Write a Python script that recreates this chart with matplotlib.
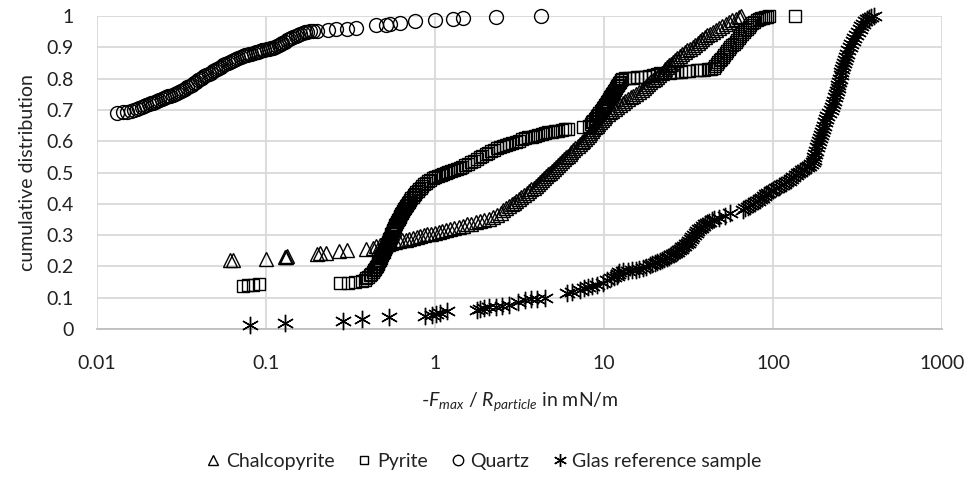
import matplotlib
matplotlib.use('Agg')
import matplotlib.pyplot as plt

plt.rcParams['font.family'] = ['Lato', 'DejaVu Sans']
plt.rcParams['mathtext.fontset'] = 'custom'
plt.rcParams['mathtext.rm'] = 'Lato'
plt.rcParams['mathtext.it'] = 'Lato:italic'

# (-F_max / R_particle in mN/m, cumulative fraction) for each sample
chalco_pts = [
    (0.0615, 0.220), (0.064, 0.221), (0.100, 0.225), (0.130, 0.229), (0.131, 0.231), (0.133, 0.233),
    (0.200, 0.240), (0.210, 0.242), (0.228, 0.244), (0.270, 0.250), (0.300, 0.252), (0.390, 0.256),
    (0.430, 0.260),
    (0.45, 0.265), (0.47, 0.267), (0.49, 0.269), (0.51, 0.271), (0.53, 0.273), (0.55, 0.275),
    (0.58, 0.278), (0.61, 0.280), (0.64, 0.283), (0.67, 0.285), (0.70, 0.288), (0.74, 0.291),
    (0.78, 0.294), (0.82, 0.297), (0.86, 0.300), (0.90, 0.302), (0.95, 0.305), (1.00, 0.308),
    (1.05, 0.311), (1.10, 0.313), (1.16, 0.316), (1.23, 0.320), (1.30, 0.323), (1.38, 0.327),
    (1.46, 0.330), (1.55, 0.334), (1.64, 0.337), (1.74, 0.341), (1.85, 0.345), (1.96, 0.349),
    (2.08, 0.353), (2.20, 0.358), (2.32, 0.364), (2.45, 0.371),
    (2.52, 0.380), (2.62, 0.386), (2.73, 0.392), (2.84, 0.398), (2.94, 0.404), (3.03, 0.410),
    (3.13, 0.416), (3.24, 0.422), (3.36, 0.428), (3.48, 0.434), (3.60, 0.440), (3.72, 0.446),
    (3.84, 0.452), (3.96, 0.458), (4.08, 0.464), (4.20, 0.470), (4.32, 0.476), (4.44, 0.482),
    (4.56, 0.488), (4.68, 0.494), (4.80, 0.500), (4.92, 0.506), (5.05, 0.512), (5.20, 0.518),
    (5.35, 0.524), (5.50, 0.530), (5.65, 0.536), (5.80, 0.542), (5.95, 0.548), (6.10, 0.554),
    (6.25, 0.560), (6.40, 0.566), (6.57, 0.572), (6.77, 0.578), (6.97, 0.584), (7.17, 0.590),
    (7.37, 0.596), (7.56, 0.602), (7.74, 0.608), (7.92, 0.614), (8.10, 0.620), (8.28, 0.626),
    (8.46, 0.632), (8.64, 0.638), (8.84, 0.644), (9.05, 0.650), (9.26, 0.656), (9.48, 0.662),
    (9.72, 0.668), (9.96, 0.674), (10.2, 0.680), (10.5, 0.686), (10.8, 0.692), (11.2, 0.698),
    (11.6, 0.704), (12.0, 0.710), (12.4, 0.716), (12.9, 0.722), (13.4, 0.728), (13.9, 0.734),
    (14.4, 0.740), (14.9, 0.746), (15.5, 0.752), (16.1, 0.758), (16.7, 0.764), (17.2, 0.770),
    (17.7, 0.776), (18.2, 0.782), (18.8, 0.788), (19.4, 0.794), (20.0, 0.800), (20.6, 0.806),
    (21.3, 0.812), (21.9, 0.818), (22.5, 0.824), (23.0, 0.830), (23.7, 0.836), (24.3, 0.842),
    (24.9, 0.848), (25.6, 0.854), (26.4, 0.860), (27.2, 0.866), (28.0, 0.872), (29.0, 0.878),
    (30.0, 0.884), (31.0, 0.890), (32.2, 0.896), (33.4, 0.902), (34.6, 0.908), (35.8, 0.914),
    (37.0, 0.920), (38.2, 0.926), (39.5, 0.932), (40.8, 0.938), (42.2, 0.944), (44.0, 0.950),
    (45.8, 0.956), (47.7, 0.962), (50.0, 0.968), (52.4, 0.974), (54.8, 0.980), (57.2, 0.986),
    (60.0, 0.992), (63.0, 0.997), (65.0, 1.000),
]

pyrite_pts = [
    (0.073, 0.138), (0.078, 0.140), (0.0837, 0.142), (0.091, 0.144),
    (0.274, 0.146), (0.306, 0.148), (0.337, 0.150), (0.370, 0.153),
    (0.385, 0.157), (0.393, 0.162), (0.402, 0.167), (0.411, 0.172), (0.419, 0.177), (0.427, 0.182),
    (0.434, 0.187), (0.441, 0.192), (0.447, 0.197), (0.452, 0.202), (0.457, 0.207), (0.462, 0.212),
    (0.467, 0.217), (0.472, 0.222), (0.477, 0.227), (0.482, 0.232), (0.487, 0.237), (0.492, 0.242),
    (0.497, 0.247), (0.502, 0.252), (0.507, 0.257), (0.512, 0.262), (0.517, 0.267), (0.522, 0.272),
    (0.527, 0.277), (0.532, 0.282), (0.537, 0.287), (0.542, 0.292), (0.547, 0.297), (0.552, 0.302),
    (0.557, 0.307), (0.562, 0.312), (0.567, 0.317), (0.572, 0.322), (0.577, 0.327), (0.583, 0.332),
    (0.589, 0.337), (0.596, 0.342), (0.603, 0.347), (0.610, 0.352), (0.617, 0.357), (0.624, 0.362),
    (0.632, 0.367), (0.640, 0.372), (0.648, 0.377), (0.657, 0.382), (0.666, 0.387), (0.675, 0.392),
    (0.685, 0.397), (0.695, 0.402), (0.705, 0.407), (0.715, 0.412), (0.725, 0.417), (0.736, 0.422),
    (0.748, 0.427), (0.761, 0.432), (0.775, 0.437), (0.790, 0.442), (0.806, 0.447), (0.824, 0.452),
    (0.843, 0.457), (0.864, 0.462), (0.887, 0.467), (0.912, 0.472), (0.940, 0.477), (0.970, 0.482),
    (1.00, 0.486),
    (1.04, 0.489), (1.08, 0.492), (1.12, 0.495), (1.16, 0.498), (1.20, 0.501), (1.25, 0.504),
    (1.30, 0.508), (1.35, 0.511), (1.40, 0.515), (1.45, 0.519), (1.51, 0.523), (1.57, 0.528),
    (1.63, 0.533), (1.70, 0.538), (1.77, 0.543), (1.84, 0.548), (1.91, 0.553), (1.99, 0.558),
    (2.07, 0.563), (2.15, 0.568), (2.24, 0.573), (2.33, 0.577), (2.43, 0.581), (2.53, 0.585),
    (2.64, 0.588), (2.75, 0.591), (2.87, 0.595), (3.00, 0.598), (3.13, 0.602), (3.27, 0.606),
    (3.42, 0.609), (3.57, 0.612), (3.73, 0.615), (3.90, 0.618), (4.08, 0.621), (4.27, 0.624),
    (4.47, 0.626), (4.68, 0.628), (4.90, 0.630), (5.13, 0.632), (5.37, 0.634), (5.62, 0.636),
    (5.88, 0.638), (6.10, 0.639), (7.50, 0.645),
    (8.20, 0.650), (8.35, 0.655), (8.50, 0.660), (8.65, 0.665), (8.80, 0.670), (8.95, 0.675),
    (9.10, 0.680), (9.25, 0.685), (9.40, 0.690), (9.55, 0.695), (9.70, 0.700), (9.85, 0.705),
    (10.0, 0.710), (10.15, 0.715), (10.3, 0.720), (10.45, 0.725), (10.6, 0.730), (10.75, 0.735),
    (10.9, 0.740), (11.05, 0.745), (11.2, 0.750), (11.35, 0.755), (11.5, 0.760), (11.65, 0.765),
    (11.8, 0.770), (11.95, 0.775), (12.1, 0.780), (12.25, 0.785), (12.4, 0.790), (12.6, 0.795),
    (12.8, 0.800),
    (13.3, 0.801), (14.0, 0.802), (14.8, 0.803), (15.6, 0.804), (16.5, 0.805), (17.5, 0.806),
    (18.5, 0.808), (19.5, 0.812), (20.5, 0.816), (21.5, 0.818), (24.6, 0.819), (25.8, 0.820),
    (27.0, 0.821), (28.5, 0.822), (30.0, 0.823), (32.0, 0.825), (35.5, 0.827), (37.0, 0.828),
    (39.0, 0.829), (41.0, 0.830), (43.0, 0.832), (44.5, 0.834),
    (45.5, 0.840), (46.5, 0.846), (47.5, 0.852), (48.5, 0.858), (49.5, 0.864), (50.5, 0.870),
    (51.5, 0.876), (52.5, 0.882), (53.5, 0.888), (54.7, 0.894), (56.0, 0.900), (57.3, 0.906),
    (58.6, 0.912), (60.0, 0.918), (61.4, 0.924), (62.8, 0.930), (64.2, 0.936), (65.6, 0.942),
    (67.0, 0.948), (68.5, 0.954), (70.0, 0.960), (71.7, 0.966), (73.5, 0.972), (75.5, 0.977),
    (77.7, 0.982), (80.0, 0.986), (82.5, 0.990), (85.0, 0.993), (87.5, 0.995), (90.0, 0.997),
    (92.5, 0.998), (95.0, 0.999), (135.0, 1.000),
]

quartz_pts = [
    (0.0131, 0.690), (0.0142, 0.692), (0.0150, 0.694), (0.0158, 0.697), (0.0165, 0.700),
    (0.0172, 0.703), (0.0178, 0.706), (0.0184, 0.709), (0.0190, 0.712), (0.0196, 0.716),
    (0.0202, 0.719), (0.0208, 0.721), (0.0214, 0.723), (0.0220, 0.725), (0.0227, 0.728),
    (0.0234, 0.731), (0.0241, 0.734), (0.0248, 0.737), (0.0256, 0.740), (0.0264, 0.743),
    (0.0272, 0.746), (0.0280, 0.749), (0.0288, 0.752), (0.0297, 0.755), (0.0306, 0.758),
    (0.0315, 0.761), (0.0324, 0.764), (0.0333, 0.768), (0.0343, 0.773), (0.0353, 0.777),
    (0.0363, 0.781), (0.0374, 0.786), (0.0385, 0.790), (0.0396, 0.795), (0.0407, 0.799),
    (0.0419, 0.803), (0.0431, 0.807), (0.0444, 0.811), (0.0457, 0.815), (0.0470, 0.819),
    (0.0484, 0.823), (0.0498, 0.827), (0.0512, 0.830), (0.0527, 0.834), (0.0543, 0.838),
    (0.0559, 0.842), (0.0575, 0.846), (0.0592, 0.849), (0.0610, 0.853), (0.0628, 0.857),
    (0.0647, 0.860), (0.0666, 0.863), (0.0686, 0.866), (0.0707, 0.869), (0.0728, 0.871),
    (0.0750, 0.874), (0.0773, 0.876), (0.0796, 0.878), (0.0820, 0.880), (0.0845, 0.882),
    (0.0870, 0.884), (0.0896, 0.886), (0.0923, 0.888), (0.0950, 0.890), (0.0978, 0.892),
    (0.1010, 0.894), (0.1040, 0.896), (0.1070, 0.897), (0.1100, 0.899), (0.1130, 0.901),
    (0.1160, 0.903), (0.1190, 0.906), (0.1220, 0.910), (0.1250, 0.914), (0.1290, 0.918),
    (0.1330, 0.923), (0.1370, 0.927), (0.1410, 0.931), (0.1450, 0.934), (0.1500, 0.937),
    (0.1550, 0.940), (0.1600, 0.943), (0.1650, 0.946), (0.1700, 0.948), (0.1760, 0.950),
    (0.1820, 0.951), (0.1900, 0.952), (0.2000, 0.953),
    (0.233, 0.955), (0.26, 0.957), (0.30, 0.959), (0.34, 0.961), (0.45, 0.970), (0.51, 0.972),
    (0.54, 0.974), (0.62, 0.977), (0.76, 0.983), (1.00, 0.988), (1.28, 0.991), (1.47, 0.993),
    (2.30, 0.996), (4.24, 0.999),
]

glas_pts = [
    (0.0805, 0.013), (0.13, 0.020), (0.285, 0.025), (0.372, 0.033), (0.535, 0.037), (0.87, 0.043),
    (0.96, 0.046), (1.02, 0.048), (1.07, 0.052), (1.17, 0.056), (1.78, 0.062), (1.85, 0.065),
    (1.95, 0.067), (2.10, 0.070), (2.30, 0.071), (2.50, 0.073), (2.75, 0.078), (3.10, 0.086),
    (3.40, 0.093), (3.70, 0.095), (4.00, 0.097), (4.50, 0.100), (6.00, 0.114), (6.50, 0.118),
    (7.20, 0.125), (7.60, 0.130), (8.00, 0.135), (8.50, 0.137), (9.10, 0.140), (9.80, 0.148),
    (10.4, 0.157), (11.0, 0.163), (11.5, 0.167), (11.9, 0.170), (12.1, 0.177), (12.3, 0.182),
    (13.0, 0.184), (13.8, 0.186), (14.6, 0.188), (15.4, 0.190), (16.2, 0.193), (17.0, 0.196),
    (17.8, 0.199), (18.6, 0.203), (19.3, 0.207), (20.0, 0.210), (20.7, 0.214), (21.4, 0.217),
    (22.1, 0.221), (22.8, 0.224), (23.5, 0.227), (24.2, 0.231), (24.9, 0.235), (25.6, 0.239),
    (26.3, 0.243), (27.0, 0.247), (27.7, 0.251), (28.4, 0.256), (29.1, 0.261), (29.8, 0.266),
    (30.5, 0.271), (31.2, 0.276), (31.9, 0.282), (32.6, 0.288), (33.3, 0.294), (34.0, 0.300),
    (34.8, 0.307), (35.6, 0.313), (36.5, 0.319), (37.4, 0.324), (38.4, 0.329), (39.5, 0.334),
    (40.7, 0.338), (42.0, 0.343), (43.5, 0.348), (45.0, 0.352), (48.0, 0.356), (52.0, 0.362),
    (56.0, 0.370),
    (66.0, 0.380), (68.5, 0.385), (71.0, 0.390), (73.5, 0.395), (76.0, 0.400), (78.5, 0.405),
    (81.0, 0.410), (83.5, 0.415), (86.0, 0.420), (88.5, 0.425), (91.0, 0.430), (94.0, 0.435),
    (97.0, 0.440), (100.0, 0.444), (104.0, 0.449), (108.0, 0.454), (112.0, 0.459), (116.0, 0.464),
    (120.0, 0.469), (124.0, 0.474), (128.0, 0.479), (132.0, 0.485), (136.0, 0.491), (140.0, 0.497),
    (144.0, 0.502), (148.0, 0.507), (153.0, 0.512), (158.0, 0.517), (163.0, 0.522), (168.0, 0.527),
    (172.0, 0.532), (174.0, 0.540), (176.0, 0.550), (178.0, 0.560), (180.0, 0.570), (182.0, 0.580),
    (184.0, 0.590), (186.0, 0.600), (189.0, 0.610), (192.0, 0.620), (195.0, 0.630), (198.0, 0.640),
    (201.0, 0.650), (204.0, 0.660), (207.0, 0.670), (210.0, 0.680), (214.0, 0.690), (220.0, 0.700),
    (223.0, 0.710), (226.0, 0.720), (229.0, 0.730), (232.0, 0.740), (235.0, 0.750), (238.0, 0.760),
    (241.0, 0.770), (244.0, 0.780), (247.0, 0.790), (249.0, 0.800), (252.0, 0.810), (254.0, 0.820),
    (257.0, 0.830), (260.0, 0.840), (263.0, 0.850), (266.0, 0.860), (270.0, 0.870), (274.0, 0.880),
    (279.0, 0.890), (284.0, 0.900), (290.0, 0.910), (296.0, 0.920), (302.0, 0.930), (309.0, 0.940),
    (317.0, 0.950), (326.0, 0.960), (333.0, 0.968), (341.0, 0.976), (350.0, 0.984), (360.0, 0.990),
    (370.0, 0.995), (382.0, 0.998), (395.0, 1.000),
]

x_ticks = [0.01, 0.1, 1, 10, 100, 1000]
x_labels = ['0.01', '0.1', '1', '10', '100', '1000']
y_ticks = [0, 0.1, 0.2, 0.3, 0.4, 0.5, 0.6, 0.7, 0.8, 0.9, 1.0]
y_labels = ['0', '0.1', '0.2', '0.3', '0.4', '0.5', '0.6', '0.7', '0.8', '0.9', '1']

text_color = '#222222'

fig = plt.figure(figsize=(9.68, 4.82), dpi=100)
ax = fig.add_axes([97 / 968, 1 - 329 / 482, 845 / 968, 313 / 482])

series = [
    (chalco_pts, '^', 10.0, 'Chalcopyrite'),
    (pyrite_pts, 's', 8.5, 'Pyrite'),
    (quartz_pts, 'o', 10.0, 'Quartz'),
    (glas_pts, (6, 2, 0), 12.5, 'Glas reference sample'),
]
for pts, marker, size, label in series:
    xs, ys = zip(*pts)
    ax.plot(xs, ys, linestyle='none', marker=marker, markersize=size,
            markerfacecolor='none', markeredgecolor='black', markeredgewidth=1.0,
            label=label, clip_on=False, zorder=3)

ax.set_xscale('log')
ax.set_xlim(0.01, 1000)
ax.set_ylim(0, 1)
ax.set_xticks(x_ticks)
ax.set_xticklabels(x_labels)
ax.minorticks_off()
ax.set_yticks(y_ticks)
ax.set_yticklabels(y_labels)
ax.tick_params(axis='both', length=0, labelsize=14, colors=text_color)
ax.tick_params(axis='y', pad=17)
ax.tick_params(axis='x', pad=19)

# light grid on every decade and every 0.1 step
ax.grid(True, color='#d9d9d9', linewidth=1.3)
ax.set_axisbelow(True)
for side in ['top', 'right', 'left']:
    ax.spines[side].set_visible(False)
ax.spines['bottom'].set_color('#bfbfbf')
ax.spines['bottom'].set_linewidth(1.3)

ax.set_xlabel(r'-$F_{max}$ / $R_{particle}$ in mN/m', fontsize=14, color=text_color)
ax.xaxis.set_label_coords(0.5, -0.195)
ax.set_ylabel('cumulative distribution', fontsize=14, color=text_color)
ax.yaxis.set_label_coords(-0.072, 0.5)

handles, labels = ax.get_legend_handles_labels()
leg = fig.legend(handles, labels, loc='center', bbox_to_anchor=(0.5, 0.042), ncol=4,
                 frameon=False, fontsize=14, handlelength=0.7, handletextpad=0.3,
                 columnspacing=1.2, markerscale=0.75)
for t in leg.get_texts():
    t.set_color(text_color)

fig.savefig('out.png', dpi=100)
